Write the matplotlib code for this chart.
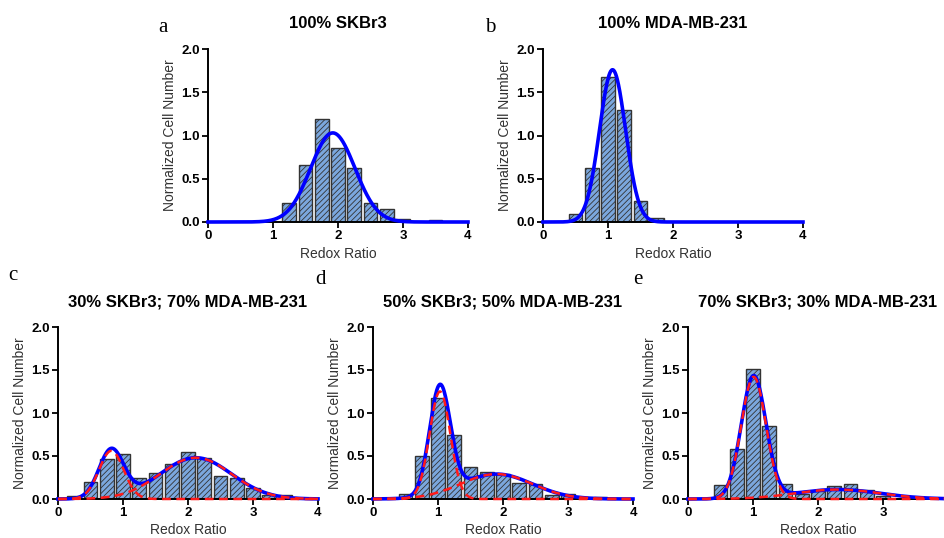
import numpy as np
import matplotlib
matplotlib.use('Agg')
from matplotlib import pyplot as plt

plt.rcParams['font.family'] = ['Liberation Sans', 'DejaVu Sans']
plt.rcParams['hatch.color'] = '#2f3f5a'
plt.rcParams['hatch.linewidth'] = 0.6

W, H = 944, 538

# histogram bins (centres), one per panel, with heights
centres_a = [1.25, 1.5, 1.75, 2.0, 2.25, 2.5, 2.75, 3.0, 3.5]
counts_a = [0.22, 0.66, 1.19, 0.85, 0.63, 0.22, 0.15, 0.04, 0.02]

centres_b = [0.5, 0.75, 1.0, 1.25, 1.5, 1.75]
counts_b = [0.09, 0.62, 1.68, 1.29, 0.24, 0.05]

centres_c = [0.25, 0.5, 0.75, 1.0, 1.25, 1.5, 1.75, 2.0, 2.25, 2.5, 2.75, 3.0, 3.25, 3.5]
counts_c = [0.04, 0.20, 0.46, 0.52, 0.24, 0.30, 0.41, 0.55, 0.48, 0.27, 0.25, 0.13, 0.05, 0.05]

centres_d = [0.5, 0.75, 1.0, 1.25, 1.5, 1.75, 2.0, 2.25, 2.5, 2.75, 3.0, 3.5]
counts_d = [0.06, 0.50, 1.18, 0.75, 0.37, 0.31, 0.29, 0.19, 0.17, 0.05, 0.06, 0.02]

centres_e = [0.5, 0.75, 1.0, 1.25, 1.5, 1.75, 2.0, 2.25, 2.5, 2.75, 3.0]
counts_e = [0.16, 0.58, 1.51, 0.85, 0.18, 0.06, 0.09, 0.15, 0.17, 0.10, 0.04]

# gaussian fit components (amplitude, mean, sigma)
fit_a = [(1.03, 1.92, 0.34)]
fit_b = [(1.76, 1.07, 0.20)]
fit_c = [(0.56, 0.82, 0.19), (0.48, 2.12, 0.55)]
fit_d = [(1.25, 1.03, 0.16), (0.29, 1.90, 0.55)]
fit_e = [(1.42, 1.01, 0.19), (0.11, 2.30, 0.65)]

titles = ['100% SKBr3', '100% MDA-MB-231', '30% SKBr3; 70% MDA-MB-231',
          '50% SKBr3; 50% MDA-MB-231', '70% SKBr3; 30% MDA-MB-231']
letters = ['a', 'b', 'c', 'd', 'e']

# axes boxes in pixels: x of 0, x of 4, y of 0, y of 2
boxes = [(208, 468, 222, 49), (543, 803, 222, 49),
         (58, 318, 499, 327), (373, 633, 499, 327), (688, 948, 499, 327)]
letter_pos = [(163, 27), (490, 27), (13, 275), (320, 279), (638, 279)]


def gauss(x, amp, mu, sig):
    return amp * np.exp(-0.5 * ((x - mu) / sig) ** 2)


fig = plt.figure(figsize=(W / 100, H / 100), dpi=100)

panels = [(centres_a, counts_a, fit_a), (centres_b, counts_b, fit_b),
          (centres_c, counts_c, fit_c), (centres_d, counts_d, fit_d),
          (centres_e, counts_e, fit_e)]

for i, (cen, cnt, fit) in enumerate(panels):
    x0, x1, y0, y1 = boxes[i]
    ax = fig.add_axes([x0 / W, 1 - y0 / H, (x1 - x0) / W, (y0 - y1) / H])
    ax.bar(cen, cnt, width=0.21, color='#7ba7dd', edgecolor='#333333',
           linewidth=1.0, hatch='//////', zorder=2)
    xs = np.linspace(0, 4, 600)
    total = sum(gauss(xs, *p) for p in fit)
    ax.plot(xs, total, color='#0000ff', lw=2.6, zorder=3, clip_on=False)
    if len(fit) > 1:
        for p in fit:
            ax.plot(xs, gauss(xs, *p), color='#ff1a1a', lw=1.8,
                    dashes=(3.5, 2.2), zorder=4, clip_on=False)
    ax.set_xlim(0, 4)
    ax.set_ylim(0, 2.0)
    ax.set_yticks([0, 0.5, 1.0, 1.5, 2.0])
    ax.set_yticklabels(['0.0', '0.5', '1.0', '1.5', '2.0'])
    if i == 4:
        ax.set_xticks([0, 1, 2, 3])
    else:
        ax.set_xticks([0, 1, 2, 3, 4])
    for s in ('top', 'right'):
        ax.spines[s].set_visible(False)
    for s in ('left', 'bottom'):
        ax.spines[s].set_linewidth(1.4)
    ax.tick_params(direction='out', width=1.3, length=4, labelsize=9.5, pad=2)
    for lab in ax.get_xticklabels() + ax.get_yticklabels():
        lab.set_fontweight('bold')
    ax.set_xlabel('Redox Ratio', fontsize=10, color='#333333', labelpad=3)
    ax.set_ylabel('Normalized Cell Number', fontsize=10, color='#333333', labelpad=3)

    # titles and panel letters placed in figure pixels
    cx = (x0 + x1) / 2
    ty = 23 if i < 2 else 302
    fig.text(cx / W, 1 - ty / H, titles[i], fontsize=12, fontweight='bold',
             ha='center', va='center')
    lx, ly = letter_pos[i]
    fig.text(lx / W, 1 - ly / H, letters[i], fontsize=15,
             family=['Liberation Serif', 'DejaVu Serif'], ha='center', va='center')

fig.savefig('out.png', dpi=100)
